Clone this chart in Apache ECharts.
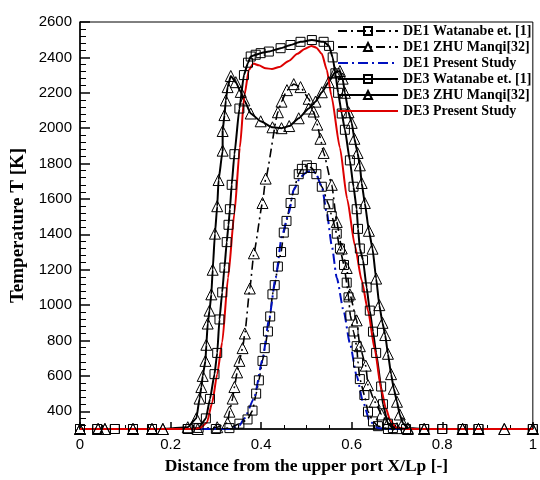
<!DOCTYPE html>
<html>
<head>
<meta charset="utf-8">
<script src="https://cdn.jsdelivr.net/npm/echarts@6/dist/echarts.min.js"></script>
<style>html,body{margin:0;padding:0;background:#fff}#c{width:540px;height:480px}</style>
</head>
<body>
<div id="c"></div>
<script>
// ---- data (x = X/Lp, T in K) ----
const seriesNames = ['DE1 Watanabe et. [1]', 'DE1 ZHU Manqi[32]', 'DE1 Present Study',
                     'DE3 Watanabe et. [1]', 'DE3 ZHU Manqi[32]', 'DE3 Present Study'];

const DE1_WATANABE = [[0,300],[0.038,300],[0.077,300],[0.117,300],[0.159,300],[0.238,300],[0.30,300],[0.33,305],
  [0.352,330],[0.370,354],[0.381,404],[0.389,500],[0.395,575],[0.403,685],[0.408,757],[0.415,851],[0.420,936],
  [0.425,1061],[0.430,1113],[0.437,1218],[0.444,1300],[0.450,1410],[0.456,1476],[0.465,1577],[0.472,1652],
  [0.483,1740],[0.490,1770],[0.501,1790],[0.512,1775],[0.522,1740],[0.534,1669],[0.549,1570],[0.556,1503],
  [0.567,1404],[0.574,1320],[0.583,1227],[0.589,1127],[0.593,1044],[0.597,941],[0.604,851],[0.611,768],
  [0.614,675],[0.618,582],[0.628,492],[0.636,398],[0.647,343],[0.658,316],[0.68,300],[0.76,300],[0.80,300],
  [0.845,300],[0.88,300],[1,300]];

const DE1_ZHU = [[0,300],[0.04,300],[0.055,300],[0.117,300],[0.159,300],[0.183,300],[0.26,300],[0.303,310],
  [0.326,334],[0.330,398],[0.337,472],[0.341,537],[0.347,620],[0.352,685],[0.359,757],[0.364,840],[0.375,1094],
  [0.384,1293],[0.403,1577],[0.410,1715],[0.437,2090],[0.445,2150],[0.457,2215],[0.472,2249],[0.487,2232],
  [0.505,2166],[0.516,2094],[0.524,2020],[0.531,1940],[0.538,1860],[0.556,1680],[0.567,1470],[0.578,1320],
  [0.589,1210],[0.596,1061],[0.611,914],[0.618,768],[0.631,658],[0.636,548],[0.651,454],[0.666,382],
  [0.680,334],[0.70,305],[0.724,300],[0.76,300],[0.845,300],[0.88,300],[0.937,300],[1,300]];

const DE1_PRESENT = [[0,300],[0.2,300],[0.33,300],[0.352,320],[0.363,360],[0.384,470],[0.403,690],[0.417,912],
  [0.432,1155],[0.446,1393],[0.461,1520],[0.472,1652],[0.487,1724],[0.501,1752],[0.510,1760],[0.520,1748],
  [0.534,1669],[0.545,1522],[0.556,1337],[0.567,1155],[0.582,969],[0.596,785],[0.611,600],[0.625,454],
  [0.640,343],[0.658,305],[0.68,300],[1,300]];

const DE3_WATANABE = [[0,300],[0.038,300],[0.077,300],[0.117,300],[0.159,300],[0.238,300],[0.262,306],
  [0.278,360],[0.287,470],[0.297,610],[0.303,730],[0.308,919],[0.314,1072],[0.319,1212],[0.324,1356],
  [0.328,1454],[0.331,1542],[0.335,1680],[0.341,1853],[0.352,2111],[0.362,2300],[0.371,2370],[0.377,2405],
  [0.388,2415],[0.399,2424],[0.417,2433],[0.443,2452],[0.465,2470],[0.487,2488],[0.512,2498],[0.538,2488],
  [0.550,2465],[0.558,2400],[0.564,2310],[0.570,2200],[0.578,2083],[0.585,1991],[0.596,1818],[0.604,1669],
  [0.611,1542],[0.614,1431],[0.618,1320],[0.625,1254],[0.633,1100],[0.640,969],[0.647,850],[0.654,730],
  [0.665,540],[0.669,440],[0.680,330],[0.691,305],[0.72,300],[0.76,300],[0.80,300],[0.845,300],[0.88,300],[1,300]];

const DE3_ZHU = [[0,300],[0.04,300],[0.055,300],[0.117,300],[0.159,300],[0.183,300],[0.238,310],[0.257,361],
  [0.264,472],[0.268,537],[0.271,600],[0.277,685],[0.279,776],[0.282,896],[0.286,969],[0.290,1061],
  [0.293,1200],[0.298,1404],[0.303,1559],[0.306,1707],[0.315,1873],[0.315,1984],[0.319,2074],[0.322,2157],
  [0.326,2232],[0.333,2295],[0.344,2260],[0.355,2205],[0.363,2157],[0.377,2083],[0.399,2039],[0.425,2005],
  [0.445,2000],[0.462,2012],[0.483,2056],[0.505,2111],[0.520,2150],[0.534,2203],[0.549,2260],[0.563,2315],
  [0.574,2323],[0.580,2280],[0.585,2200],[0.593,2090],[0.600,2030],[0.606,1940],[0.613,1860],[0.618,1790],
  [0.622,1690],[0.629,1577],[0.638,1420],[0.646,1319],[0.654,1150],[0.661,1000],[0.668,900],[0.674,831],
  [0.680,725],[0.687,610],[0.693,527],[0.700,454],[0.706,382],[0.713,334],[0.724,305],[0.76,300],[0.845,300],
  [0.88,300],[0.937,300],[1,300]];

const DE3_PRESENT = [[0,300],[0.1,300],[0.2,300],[0.25,300],[0.265,305],[0.28,335],[0.292,450],[0.303,610],
  [0.314,790],[0.327,1155],[0.341,1520],[0.353,1890],[0.363,2185],[0.373,2330],[0.383,2365],[0.395,2355],
  [0.41,2338],[0.424,2335],[0.44,2345],[0.461,2380],[0.48,2420],[0.496,2448],[0.511,2465],[0.522,2455],
  [0.534,2420],[0.545,2330],[0.555,2185],[0.574,1890],[0.59,1600],[0.607,1337],[0.622,1140],[0.636,969],
  [0.651,748],[0.665,527],[0.675,420],[0.685,350],[0.698,310],[0.715,301],[0.73,300],[1,300]];

const xTicks = [0, 0.2, 0.4, 0.6, 0.8, 1];
const yTicks = [400, 600, 800, 1000, 1200, 1400, 1600, 1800, 2000, 2200, 2400, 2600];
const yMinorTicks = [320, 360, 440, 480, 520, 560, 640, 680, 720, 760, 840, 880, 920, 960,
  1040, 1080, 1120, 1160, 1240, 1280, 1320, 1360, 1440, 1480, 1520, 1560, 1640, 1680, 1720, 1760,
  1840, 1880, 1920, 1960, 2040, 2080, 2120, 2160, 2240, 2280, 2320, 2360, 2440, 2480, 2520, 2560];

// ---- chart ----
const chart = echarts.init(document.getElementById('c'), null, {renderer: 'canvas'});
const serif = 'Liberation Serif';
const sans = 'Liberation Sans';
const dashDot = [9, 4, 2, 4];

function markerSeries(name, data, symbol, size, solid) {
  return {
    name, type: 'line', data, symbol, symbolSize: size, showAllSymbol: true,
    smooth: 0.15, smoothMonotone: 'x',
    lineStyle: {color: '#000', width: solid ? 2 : 1.6, type: solid ? 'solid' : dashDot},
    itemStyle: {color: 'rgba(0,0,0,0)', borderColor: '#000', borderWidth: 1},
    emphasis: {disabled: true}, animation: false
  };
}

const noSymbol = {color: 'rgba(0,0,0,0)', borderColor: 'rgba(0,0,0,0)', borderWidth: 0};

chart.setOption({
  animation: false,
  backgroundColor: '#fff',
  grid: {left: 80, right: 5, top: 22, bottom: 42, show: true, borderColor: '#000', borderWidth: 1},
  legend: {
    orient: 'vertical', left: 332, top: 19, itemWidth: 60, itemHeight: 10, itemGap: 2,
    data: [
      {name: seriesNames[0]}, {name: seriesNames[1]},
      {name: seriesNames[2], itemStyle: noSymbol},
      {name: seriesNames[3]}, {name: seriesNames[4]},
      {name: seriesNames[5], itemStyle: noSymbol}
    ],
    textStyle: {fontFamily: serif, fontWeight: 'bold', fontSize: 14, color: '#000', lineHeight: 14},
    selectedMode: false
  },
  xAxis: {
    type: 'value', min: 0, max: 1, interval: 0.2,
    name: 'Distance from the upper port X/Lp [-]', nameLocation: 'middle', nameGap: 28,
    nameTextStyle: {fontFamily: serif, fontWeight: 'bold', fontSize: 17.5, color: '#000'},
    axisLine: {lineStyle: {color: '#000', width: 1.5}},
    axisTick: {inside: true, length: 7, lineStyle: {color: '#000', width: 1.5}},
    minorTick: {show: true, splitNumber: 4, length: 4, lineStyle: {color: '#000', width: 1}},
    axisLabel: {fontFamily: sans, fontSize: 15, color: '#000', margin: 8,
      formatter: v => String(Math.round(v * 10) / 10)},
    splitLine: {show: false}
  },
  yAxis: [{
    type: 'value', min: 300, max: 2600,
    name: 'Temperature T [K]', nameLocation: 'middle', nameGap: 51, nameRotate: 90,
    nameTextStyle: {fontFamily: serif, fontWeight: 'bold', fontSize: 19, color: '#000'},
    axisLine: {lineStyle: {color: '#000', width: 1.5}},
    axisTick: {inside: true, length: 10, customValues: yTicks, lineStyle: {color: '#000', width: 1.5}},
    axisLabel: {fontFamily: sans, fontSize: 15, color: '#000', margin: 8, customValues: yTicks,
      formatter: v => String(v)},
    splitLine: {show: false}
  }, {
    type: 'value', min: 300, max: 2600, position: 'left',
    axisLine: {show: false},
    axisTick: {inside: true, length: 6, customValues: yMinorTicks, lineStyle: {color: '#000', width: 1}},
    axisLabel: {show: false},
    splitLine: {show: false}
  }],
  series: [
    markerSeries(seriesNames[0], DE1_WATANABE, 'rect', 9, false),
    markerSeries(seriesNames[1], DE1_ZHU, 'triangle', 11, false),
    {name: seriesNames[2], type: 'line', data: DE1_PRESENT, symbol: 'none', smooth: 0.2, smoothMonotone: 'x',
      lineStyle: {color: '#0010c0', width: 2, type: [10, 4, 2, 4]}, itemStyle: {color: '#0010c0'}, animation: false},
    markerSeries(seriesNames[3], DE3_WATANABE, 'rect', 9, true),
    markerSeries(seriesNames[4], DE3_ZHU, 'triangle', 11, true),
    {name: seriesNames[5], type: 'line', data: DE3_PRESENT, symbol: 'none', smooth: 0.2, smoothMonotone: 'x',
      lineStyle: {color: '#dd0000', width: 2}, itemStyle: {color: '#dd0000'}, animation: false}
  ]
});
</script>
</body>
</html>
